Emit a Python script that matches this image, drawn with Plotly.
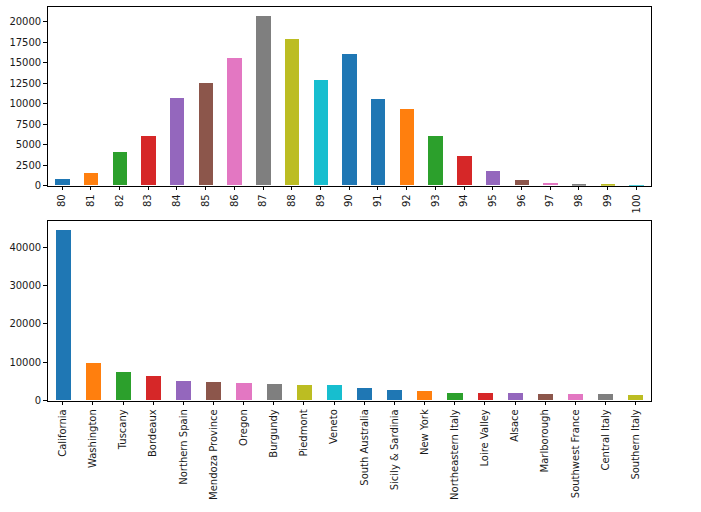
import plotly.graph_objects as go

points = [str(p) for p in range(80, 101)]
points_counts = [850, 1540, 4060, 6050, 10700, 12450, 15550, 20750, 17900, 12900,
                 16000, 10600, 9300, 6050, 3550, 1750, 620, 300, 120, 90, 20]

regions = ["California", "Washington", "Tuscany", "Bordeaux", "Northern Spain",
           "Mendoza Province", "Oregon", "Burgundy", "Piedmont", "Veneto",
           "South Australia", "Sicily & Sardinia", "New York", "Northeastern Italy",
           "Loire Valley", "Alsace", "Marlborough", "Southwest France",
           "Central Italy", "Southern Italy"]
region_counts = [44500, 9750, 7400, 6250, 5050, 4850, 4600, 4350, 4150, 4100,
                 3200, 2700, 2550, 2000, 2000, 1830, 1800, 1800, 1570, 1550]

top_ticks = [0, 2500, 5000, 7500, 10000, 12500, 15000, 17500, 20000]
bottom_ticks = [0, 10000, 20000, 30000, 40000]

tab10 = ["#1f77b4", "#ff7f0e", "#2ca02c", "#d62728", "#9467bd",
         "#8c564b", "#e377c2", "#7f7f7f", "#bcbd22", "#17becf"]


def bar_colors(n):
    cols = []
    for i in range(n):
        if i < 10:
            cols.append(tab10[i])
        elif i == 10:
            cols.append(tab10[0])
        else:
            cols.append(tab10[(i - 11) % 10])
    return cols


fig = go.Figure()
fig.add_trace(go.Bar(x=points, y=points_counts, width=0.5,
                     marker=dict(color=bar_colors(len(points)), line=dict(width=0)),
                     xaxis="x", yaxis="y", showlegend=False))
fig.add_trace(go.Bar(x=regions, y=region_counts, width=0.5,
                     marker=dict(color=bar_colors(len(regions)), line=dict(width=0)),
                     xaxis="x2", yaxis="y2", showlegend=False))

W, H = 701, 512
YS = 0.984  # observed vertical scale of the captured page
xl, xr = 47.7, 650.7
xdom = [xl / W, xr / W]


def ydom(top_px, bot_px):
    return [1 - (bot_px / YS) / H, 1 - (top_px / YS) / H]


axis_common = dict(showline=True, linecolor="#000000", linewidth=1, mirror=True,
                   ticks="outside", ticklen=3.5, tickwidth=1, tickcolor="#000000",
                   showgrid=False, zeroline=False,
                   tickfont=dict(family="DejaVu Sans", size=10, color="#1a1a1a"))

fig.update_layout(
    width=W, height=H, autosize=False,
    margin=dict(l=0, r=0, t=0, b=0),
    paper_bgcolor="white", plot_bgcolor="white",
    bargap=0,
    xaxis=dict(domain=xdom, anchor="y", type="category",
               range=[-0.5, len(points) - 0.5], tickangle=-90, **axis_common),
    yaxis=dict(domain=ydom(7.3, 185), anchor="x",
               range=[0, max(points_counts) * 1.05],
               tickvals=top_ticks, ticktext=[str(t) for t in top_ticks], **axis_common),
    xaxis2=dict(domain=xdom, anchor="y2", type="category",
                range=[-0.5, len(regions) - 0.5], tickangle=-90, **axis_common),
    yaxis2=dict(domain=ydom(220.3, 399), anchor="x2",
                range=[0, max(region_counts) * 1.05],
                tickvals=bottom_ticks, ticktext=[str(t) for t in bottom_ticks], **axis_common),
    font=dict(family="DejaVu Sans", size=10, color="#1a1a1a"),
)

fig.write_html("out.html", post_script="document.body.style.margin='0px';",
               config={"displayModeBar": False, "responsive": False})
